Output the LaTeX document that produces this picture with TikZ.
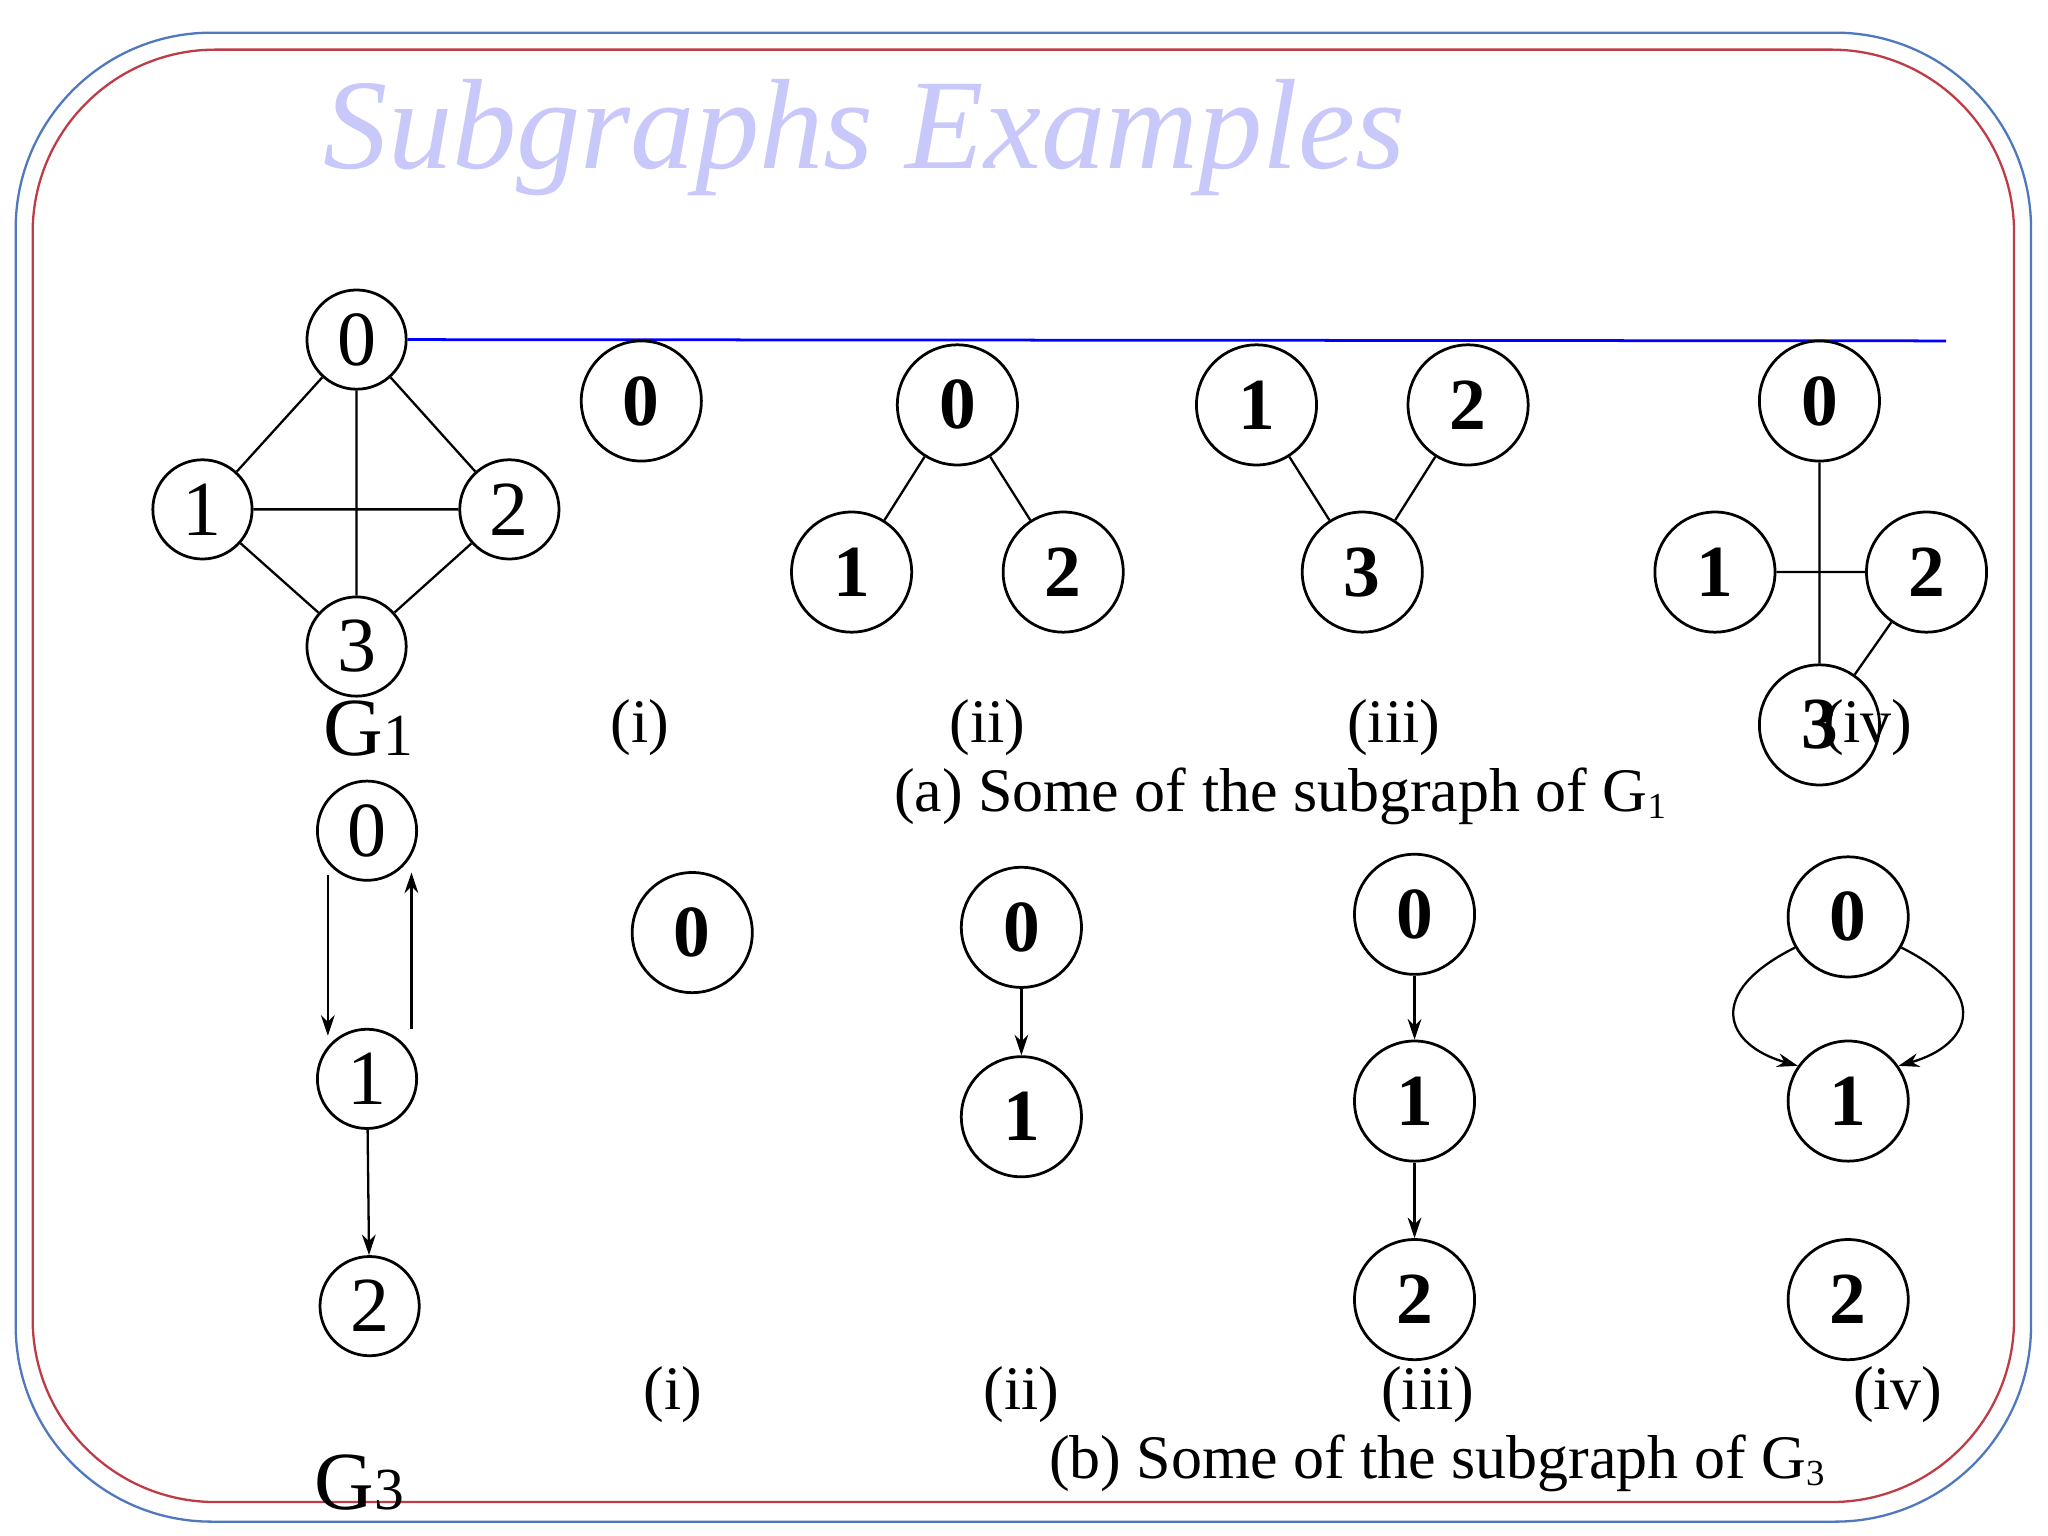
\documentclass[tikz,border=0pt]{standalone}
\usepackage{fontspec}
\setmainfont{Liberation Serif}
\usetikzlibrary{arrows.meta}
\begin{document}
\begin{tikzpicture}[x=0.02cm,y=-0.02cm,
 sv/.style={circle,draw,line width=1.2pt,minimum size=1.52cm,inner sep=0pt,font=\fontsize{34}{34}\selectfont},
 bv/.style={circle,draw,line width=1.2pt,minimum size=1.84cm,inner sep=0pt,font=\fontsize{32}{32}\selectfont\bfseries},
 ed/.style={line width=1pt},
 ar/.style={line width=1pt,-{Stealth[length=9pt,width=6pt]}},
 lab/.style={font=\fontsize{27}{27}\selectfont},
 gl/.style={font=\fontsize{36}{36}\selectfont}]
\useasboundingbox (0,0) rectangle (1568,1176);
\fill[white] (0,0) rectangle (1568,1176);
\draw[color={rgb,255:red,80;green,120;blue,190},line width=1pt,rounded corners=3cm] (12,25) rectangle (1555,1165);
\draw[color={rgb,255:red,190;green,60;blue,70},line width=1pt,rounded corners=2.8cm] (25,38) rectangle (1542,1150);
\node[font=\fontsize{56}{56}\selectfont\itshape,text={rgb,255:red,200;green,200;blue,250}] (title) at (662,105) {Subgraphs Examples};
% G1
\node[sv] (g0) at (273,260) {0};
\node[sv] (g1) at (155,390) {1};
\node[sv] (g2) at (390,390) {2};
\node[sv] (g3) at (273,495) {3};
\coordinate (bl) at (1490,261);
\draw[blue,line width=1.2pt] (g0.east) -- (bl);
\draw[ed] (g0)--(g1) (g0)--(g2) (g0)--(g3) (g1)--(g2) (g1)--(g3) (g2)--(g3);
\node[gl] (G1) at (282,558) {G{\fontsize{26}{26}\selectfont 1}};
% (a)
\node[bv] (a0) at (491,307) {0};
\node[bv] (b0) at (733,310) {0};
\node[bv] (b1) at (652,438) {1};
\node[bv] (b2) at (814,438) {2};
\draw[ed] (b0)--(b1) (b0)--(b2);
\node[bv] (c1) at (962,310) {1};
\node[bv] (c2) at (1124,310) {2};
\node[bv] (c3) at (1043,438) {3};
\draw[ed] (c1)--(c3) (c2)--(c3);
\node[bv] (d0) at (1393,307) {0};
\node[bv] (d1) at (1313,438) {1};
\node[bv] (d2) at (1475,438) {2};
\node[bv] (d3) at (1393,555) {3};
\draw[ed] (d0)--(d3) (d1)--(d2) (d2)--(d3);
\node[lab] (li) at (490,557) {(i)};
\node[lab] (lii) at (756,557) {(ii)};
\node[lab] (liii) at (1067,557) {(iii)};
\node[lab] (liv) at (1430,557) {(iv)};
\node[lab] (capa) at (980,610) {(a) Some of the subgraph of G{\raisebox{-0.25ex}{\fontsize{16}{16}\selectfont 1}}};
% G3
\node[sv] (h0) at (281,636) {0};
\node[sv] (h1) at (281,826) {1};
\node[sv] (h2) at (283,1000) {2};
\coordinate (h0l) at (251,670);
\coordinate (h1l) at (251,793);
\coordinate (h1r) at (315,788);
\coordinate (h0r) at (315,668);
\draw[ar] (h0l) -- (h1l);
\draw[ar] (h1r) -- (h0r);
\draw[ar] (h1) -- (h2);
\node[gl] (G3) at (275,1135) {G{\fontsize{26}{26}\selectfont 3}};
% (b)
\node[bv] (p0) at (530,714) {0};
\node[bv] (q0) at (782,710) {0};
\node[bv] (q1) at (782,855) {1};
\draw[ar] (q0)--(q1);
\node[bv] (r0) at (1083,700) {0};
\node[bv] (r1) at (1083,843) {1};
\node[bv] (r2) at (1083,995) {2};
\draw[ar] (r0)--(r1);
\draw[ar] (r1)--(r2);
\node[bv] (s0) at (1415,702) {0};
\node[bv] (s1) at (1415,843) {1};
\node[bv] (s2) at (1415,995) {2};
\draw[ar] (s0.210) .. controls (1305,760) and (1320,800) .. (s1.145);
\draw[ar] (s0.330) .. controls (1525,760) and (1510,800) .. (s1.35);
\node[lab] (mi) at (515,1068) {(i)};
\node[lab] (mii) at (782,1068) {(ii)};
\node[lab] (miii) at (1093,1068) {(iii)};
\node[lab] (miv) at (1453,1068) {(iv)};
\node[lab] (capb) at (1100,1120) {(b) Some of the subgraph of G{\raisebox{-0.25ex}{\fontsize{16}{16}\selectfont 3}}};
\end{tikzpicture}
\end{document}
